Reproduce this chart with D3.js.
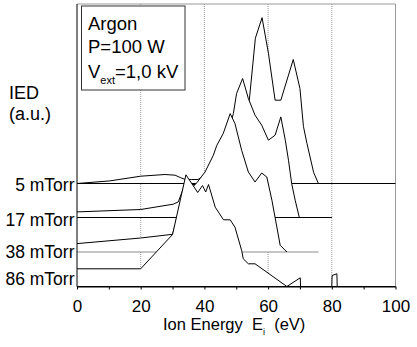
<!DOCTYPE html>
<html>
<head>
  <script src="https://d3js.org/d3.v7.min.js"></script>
  <style>
    body { margin: 0; background: #fff; }
    svg { font-family: "Liberation Sans", Arial, sans-serif; }
    .curve { fill: none; stroke: #000; stroke-width: 1px; }
    .fill { fill: #fff; stroke: none; }
  </style>
</head>
<body>
  <svg width="417" height="347"></svg>

  <script>
    // waterfall of ion energy distributions, one offset per pressure
    const labels = ["5 mTorr", "17 mTorr", "38 mTorr", "86 mTorr"];
    const offsets = [103, 69, 34.5, 0];
    const baseEnd = [100, 80, 75.8, 100];
    const baseColor = ["#000", "#000", "#8c8c8c", "#000"];
    const labelDy = [7, 8, 5.5, -1.5];

    // [E (eV), IED (a.u.)]
    const ied5 = [[0,0],[10.3,2.6],[20,7.3],[27.6,9],[30.8,8.3],[32.4,6],[34,4],[36,4],[38,4],
      [40,8],[44,30],[48,55],[52,75],[54.1,83.3],[56,145.3],[58.1,165.8],[60.1,130.3],
      [62.2,83.3],[64,83.3],[67.9,124],[70,95],[71.1,57],[72.2,40],[74.3,11],[75.8,0]];
    const ied17 = [[0,5.6],[20,8],[30.2,13.3],[31.8,15.6],[33.5,30],[36,33],[38,33],[41,45],
      [44,62],[47,80],[49.1,104],[50.1,124],[52,139],[53.8,119],[55.9,102.3],[58,92.3],
      [60.1,77.3],[62.2,82.3],[64,100.6],[65.4,77.3],[66.4,57.3],[67.4,34],[68.5,17.3],[69.8,0]];
    const ied38 = [[0,8.4],[20,14],[30,17.7],[33,52],[35.5,62],[37.8,70],[40.2,80],[42.8,96.7],
      [43.9,106.7],[45.9,118.4],[48.1,138.4],[49.6,128.4],[51.7,101.7],[53.8,80],[55.9,70],
      [58,79],[59.6,75],[61.2,51.7],[63.8,6.7],[65.9,0]];
    const ied86 = [[0,17.7],[20,17.7],[30,52],[34.2,111.7],[37.9,94],[39.4,101],[40.4,94.5],
      [41.3,102],[43.4,79.3],[46,66.7],[48.1,66.7],[49.6,59.3],[51.7,36],[52.2,27.7],[53.8,22.7],
      [55.9,22.7],[65.9,0],[70.1,8.7],[70.2,0],[80,0],[80.1,11],[81.6,12.7],[81.7,0]];
    const series = [ied5, ied17, ied38, ied86];

    const xTicks = d3.range(0, 101, 10);

    const svg = d3.select("svg");
    const margin = { top: 4, right: 21.5, bottom: 60.5, left: 77 };
    const width = +svg.attr("width");
    const height = +svg.attr("height");

    const x = d3.scaleLinear().domain([0, 100])
      .range([margin.left, width - margin.right]);
    const y = d3.scaleLinear().domain([0, 282.5])
      .range([height - margin.bottom, margin.top]);

    // grid
    svg.append("g")
      .selectAll("line")
      .data([20, 40, 60, 80])
      .join("line")
      .attr("x1", d => x(d)).attr("x2", d => x(d))
      .attr("y1", y(282.5)).attr("y2", y(0))
      .attr("stroke", "#9a9a9a")
      .attr("stroke-dasharray", "1,1");

    // frame top / right
    svg.append("path")
      .attr("d", `M${x(0)},${y(282.5)}H${x(100)}V${y(0)}`)
      .attr("fill", "none")
      .attr("stroke", "#999");

    // curves, back to front
    series.forEach((s, i) => {
      const off = offsets[i];
      const g = svg.append("g");
      g.append("path")
        .datum(s)
        .attr("class", "fill")
        .attr("d", d3.area()
          .x(d => x(d[0]))
          .y0(y(off))
          .y1(d => y(d[1] + off)));
      g.append("line")
        .attr("x1", x(0)).attr("x2", x(baseEnd[i]))
        .attr("y1", y(off)).attr("y2", y(off))
        .attr("stroke", baseColor[i]);
      g.append("path")
        .datum(s)
        .attr("class", "curve")
        .attr("d", d3.line().x(d => x(d[0])).y(d => y(d[1] + off)));
    });

    // axes
    const xAxis = svg.append("g")
      .attr("transform", `translate(0,${y(0)})`)
      .call(d3.axisBottom(x).tickValues(xTicks).tickSize(3).tickSizeOuter(0).tickPadding(10)
        .tickFormat(d => d % 20 === 0 ? d : ""));
    xAxis.selectAll("text").attr("font-size", 17).attr("font-family", "Liberation Sans, Arial, sans-serif").attr("fill", "#000");

    svg.append("line")
      .attr("x1", x(0)).attr("x2", x(0))
      .attr("y1", y(282.5)).attr("y2", y(0))
      .attr("stroke", "#000");

    // series labels
    svg.append("g")
      .selectAll("text")
      .data(labels)
      .join("text")
      .attr("x", x(0) - 2.5)
      .attr("y", (d, i) => y(offsets[i]) + labelDy[i])
      .attr("text-anchor", "end")
      .attr("font-size", 17.5)
      .text(d => d);

    // y title
    svg.append("text").attr("font-size", 18)
      .attr("x", 9).attr("y", 99).text("IED");
    svg.append("text").attr("font-size", 18)
      .attr("x", 9).attr("y", 120).text("(a.u.)");

    // x title
    const xt = svg.append("text")
      .attr("x", 163).attr("y", 330)
      .attr("font-size", 16.5)
      .attr("xml:space", "preserve")
      .style("white-space", "pre");
    xt.append("tspan").text("Ion Energy  E");
    xt.append("tspan").attr("font-size", 9).attr("dy", 5).text("i");
    xt.append("tspan").attr("dy", -5).text("  (eV)");

    // info box
    svg.append("rect")
      .attr("x", 81.5).attr("y", 6).attr("width", 103.5).attr("height", 84)
      .attr("fill", "#fff").attr("stroke", "#333");
    const info = svg.append("text").attr("font-size", 18.5);
    info.append("tspan").attr("x", 88).attr("y", 30).text("Argon");
    info.append("tspan").attr("x", 88).attr("y", 53).text("P=100 W");
    const v = svg.append("text").attr("font-size", 18.5).attr("x", 88).attr("y", 78);
    v.append("tspan").text("V");
    v.append("tspan").attr("font-size", 11).attr("dy", 6).text("ext");
    v.append("tspan").attr("dy", -6).text("=1,0 kV");
  </script>
</body>
</html>
